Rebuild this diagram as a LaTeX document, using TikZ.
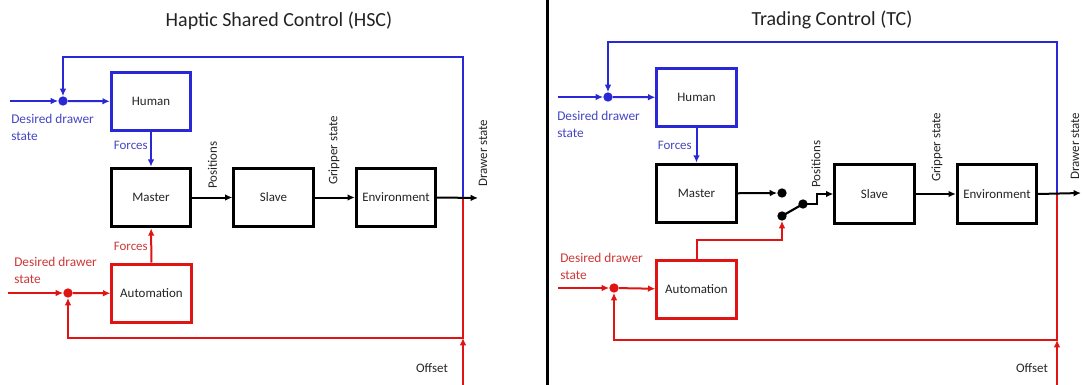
\documentclass[tikz,border=0pt]{standalone}
\usepackage{fontspec}
\setmainfont{Carlito}
\usetikzlibrary{arrows.meta}
\definecolor{ctlblue}{RGB}{40,40,215}
\definecolor{ctlred}{RGB}{225,20,20}
\definecolor{txtblue}{RGB}{70,70,195}
\definecolor{txtred}{RGB}{205,55,55}
\definecolor{ink}{RGB}{35,35,35}

\begin{document}
\begin{tikzpicture}[x=0.75pt,y=-0.75pt,
  blockbox/.style={draw, line width=2.25pt, minimum width=59.5pt, minimum height=44pt,
    inner sep=0pt, font=\fontsize{9.7}{11}\selectfont, text=ink},
  wire/.style={line width=1.5pt, -{Latex[length=5.5pt,width=5pt]}},
  plainwire/.style={line width=1.6pt},
  dotnode/.style={circle, fill, inner sep=0pt, minimum size=7pt},
  lbl/.style={inner sep=0pt, font=\fontsize{9.7}{11}\selectfont},
  vlbl/.style={lbl, rotate=90, anchor=west, text=ink},
  desired/.style={inner sep=0pt, anchor=north west, align=left,
    font=\fontsize{10}{12.6}\selectfont},
  title/.style={inner sep=0pt, font=\fontsize{15}{18}\selectfont, text=ink}]

\useasboundingbox (0,0) rectangle (1083,385);

% divider between the two schemes
\draw[line width=2.25pt] (547,0) coordinate (divtop) -- (547,385) coordinate (divbot);

% ---------------- Haptic Shared Control ----------------
\node[title] (titleL) at (279,21) {Haptic Shared Control (HSC)};

\node[blockbox, draw=ctlblue] (humanL) at (151,101.5) {Human};
\node[blockbox] (masterL) at (151,197.5) {Master};
\node[blockbox] (slaveL) at (273.5,197.5) {Slave};
\node[blockbox] (envL) at (396,197.5) {Environment};
\node[blockbox, draw=ctlred] (autoL) at (151.5,293.5) {Automation};

\node[dotnode, ctlblue] (sumBL) at (63,101) {};
\node[dotnode, ctlred] (sumRL) at (68,293) {};

\coordinate (inBL) at (10,101);
\coordinate (inRL) at (8,293);
\coordinate (jL) at (463,198);
\coordinate (outL) at (478,198);
\coordinate (topL) at (63,57);
\coordinate (botL) at (463,338);
\coordinate (offL) at (463,385);

% blue loop
\draw[wire, ctlblue] (inBL) -- (sumBL);
\draw[wire, ctlblue] (sumBL) -- (humanL);
\draw[wire, ctlblue] (jL) |- (topL) -- (sumBL);
\draw[wire, ctlblue] (humanL) -- (masterL);

% red loop
\draw[wire, ctlred] (inRL) -- (sumRL);
\draw[wire, ctlred] (sumRL) -- (autoL);
\draw[wire, ctlred] (jL) -- (botL) -| (sumRL);
\draw[wire, ctlred] (offL) -- (botL);
\draw[wire, ctlred] (autoL) -- (masterL);

% forward path
\draw[wire] (masterL) -- (slaveL);
\draw[wire] (slaveL) -- (envL);
\draw[wire] (envL.east) -- (outL);

\node[desired, text=txtblue] (desBL) at (11,114) {Desired drawer\\state};
\node[desired, text=txtred] (desRL) at (14,257) {Desired drawer\\state};
\node[lbl, anchor=east, text=txtblue] (forBL) at (148,145) {Forces};
\node[lbl, anchor=east, text=txtred] (forRL) at (148,246) {Forces};
\node[vlbl] (posL) at (212.5,189) {Positions};
\node[vlbl] (gripL) at (334,185) {Gripper state};
\node[vlbl] (drawL) at (483,187) {Drawer state};
\node[lbl, text=ink] (offtL) at (432,368) {Offset};

% ---------------- Trading Control ----------------
\node[title] (titleR) at (832,20) {Trading Control (TC)};

\node[blockbox, draw=ctlblue] (humanR) at (696.5,97.5) {Human};
\node[blockbox] (masterR) at (696.5,193.5) {Master};
\node[blockbox] (slaveR) at (874.5,194) {Slave};
\node[blockbox] (envR) at (997,194) {Environment};
\node[blockbox, draw=ctlred] (autoR) at (696.5,289.5) {Automation};

\node[dotnode, ctlblue] (sumBR) at (608,97) {};
\node[dotnode, ctlred] (sumRR) at (614,288) {};

% switch contacts
\node[dotnode] (swA) at (782,193) {};
\node[dotnode] (swB) at (782,216) {};
\node[dotnode] (swC) at (803,204) {};

\coordinate (inBR) at (558,97);
\coordinate (inRR) at (558,288);
\coordinate (jR) at (1057,193);
\coordinate (outR) at (1081,193);
\coordinate (topR) at (608,42);
\coordinate (botR) at (1057,340);
\coordinate (offR) at (1057,385);
\coordinate (swRed) at (782,240);
\coordinate (swK) at (817,204);

% blue loop
\draw[wire, ctlblue] (inBR) -- (sumBR);
\draw[wire, ctlblue] (sumBR) -- (humanR);
\draw[wire, ctlblue] (jR) |- (topR) -- (sumBR);
\draw[wire, ctlblue] (humanR) -- (masterR);

% red loop
\draw[wire, ctlred] (inRR) -- (sumRR);
\draw[wire, ctlred] (sumRR) -- (autoR);
\draw[wire, ctlred] (jR) -- (botR) -| (sumRR);
\draw[wire, ctlred] (offR) -- (botR);
\draw[wire, ctlred] (autoR.north) |- (swRed) -- (swB);

% forward path with the switch
\draw[wire] (masterR) -- (swA);
\draw[plainwire] (swB.center) -- (swC.center);
\draw[wire] (swC.center) -- (swK) |- (slaveR.west);
\draw[wire] (slaveR) -- (envR);
\draw[wire] (envR.east) -- (outR);

\node[desired, text=txtblue] (desBR) at (557,111) {Desired drawer\\state};
\node[desired, text=txtred] (desRR) at (560,253) {Desired drawer\\state};
\node[lbl, anchor=east, text=txtblue] (forBR) at (692,145) {Forces};
\node[vlbl] (posR) at (816,188) {Positions};
\node[vlbl] (gripR) at (937,182) {Gripper state};
\node[vlbl] (drawR) at (1075,180) {Drawer state};
\node[lbl, text=ink] (offtR) at (1032,368) {Offset};

\end{tikzpicture}
\end{document}
